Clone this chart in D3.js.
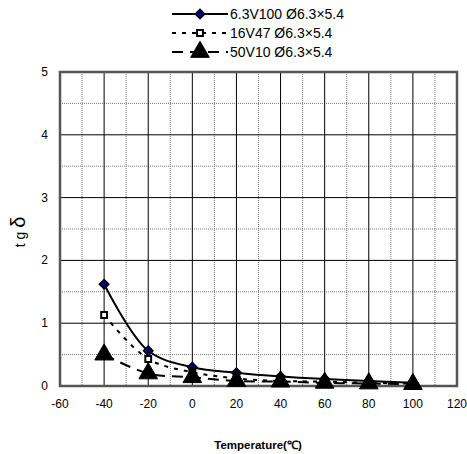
<!DOCTYPE html>
<html>
<head>
<meta charset="utf-8">
<script src="https://cdn.jsdelivr.net/npm/d3@7"></script>
<style>
  body { margin: 0; background: #fff; }
  text { font-family: Arial, "Liberation Sans", sans-serif; }
</style>
</head>
<body>
<div id="chart"></div>
<script>
// data
const temps = [-40, -20, 0, 20, 40, 60, 80, 100];
const s63v100 = [1.62, 0.56, 0.30, 0.21, 0.15, 0.11, 0.08, 0.05];
const s16v47 = [1.13, 0.43, 0.22, 0.12, 0.08, 0.07, 0.05, 0.04];
const s50v10 = [0.50, 0.20, 0.14, 0.08, 0.07, 0.05, 0.04, 0.03];
const seriesNames = ["6.3V100 Ø6.3×5.4", "16V47 Ø6.3×5.4", "50V10 Ø6.3×5.4"];
const xTicks = [-60, -40, -20, 0, 20, 40, 60, 80, 100, 120];
const yTicks = [0, 1, 2, 3, 4, 5];

const svg = d3.select("#chart")
    .append("svg")
    .attr("width", 467)
    .attr("height", 454);

const x = d3.scaleLinear().domain([-60, 120]).range([60, 457]);
const y = d3.scaleLinear().domain([0, 5]).range([386, 72]);

// minor grid (dotted)
const minorX = d3.range(-50, 120, 20);
const minorY = d3.range(0.5, 5, 1);
svg.append("g")
    .selectAll("line")
    .data(minorX)
    .join("line")
    .attr("x1", d => x(d)).attr("x2", d => x(d))
    .attr("y1", y(5)).attr("y2", y(0))
    .attr("stroke", "#777").attr("stroke-width", 1)
    .attr("stroke-dasharray", "1,1");
svg.append("g")
    .selectAll("line")
    .data(minorY)
    .join("line")
    .attr("x1", x(-60)).attr("x2", x(120))
    .attr("y1", d => y(d)).attr("y2", d => y(d))
    .attr("stroke", "#777").attr("stroke-width", 1)
    .attr("stroke-dasharray", "1,1");

// major grid
svg.append("g")
    .selectAll("line")
    .data(xTicks.slice(1, -1))
    .join("line")
    .attr("x1", d => x(d)).attr("x2", d => x(d))
    .attr("y1", y(5)).attr("y2", y(0))
    .attr("stroke", "#000").attr("stroke-width", 1);
svg.append("g")
    .selectAll("line")
    .data(yTicks.slice(1, -1))
    .join("line")
    .attr("x1", x(-60)).attr("x2", x(120))
    .attr("y1", d => y(d)).attr("y2", d => y(d))
    .attr("stroke", "#000").attr("stroke-width", 1);

// frame
svg.append("rect")
    .attr("x", x(-60)).attr("y", y(5))
    .attr("width", x(120) - x(-60)).attr("height", y(0) - y(5))
    .attr("fill", "none").attr("stroke", "#555").attr("stroke-width", 2.5);

// tick labels
svg.append("g")
    .selectAll("text")
    .data(xTicks)
    .join("text")
    .attr("x", d => x(d)).attr("y", 408)
    .attr("text-anchor", "middle")
    .attr("font-size", 12)
    .text(d => d);
svg.append("g")
    .selectAll("text")
    .data(yTicks)
    .join("text")
    .attr("x", 48).attr("y", d => y(d) + 4)
    .attr("text-anchor", "end")
    .attr("font-size", 12)
    .text(d => d);

// axis titles
svg.append("text")
    .attr("x", 258).attr("y", 449)
    .attr("text-anchor", "middle")
    .attr("font-size", 11.5).attr("font-weight", "bold")
    .text("Temperature(℃)");
const yTitle = svg.append("text")
    .attr("transform", "translate(25,232) rotate(-90)")
    .attr("text-anchor", "middle");
yTitle.append("tspan").attr("font-size", 14).text("t g ");
yTitle.append("tspan").attr("font-size", 20).text("δ");

// series
const curve = d3.curveCatmullRom.alpha(0.5);
const line = d3.line().x(d => x(d[0])).y(d => y(d[1])).curve(curve);
const series = [
    {vals: s63v100, dash: null, width: 2},
    {vals: s16v47, dash: "4,6", width: 2},
    {vals: s50v10, dash: "11,7", width: 2}
];

series.forEach((s) => {
    svg.append("path")
        .datum(temps.map((t, i) => [t, s.vals[i]]))
        .attr("d", line)
        .attr("fill", "none")
        .attr("stroke", "#000")
        .attr("stroke-width", s.width)
        .attr("stroke-dasharray", s.dash);
});

const diamond = d3.symbol().type(d3.symbolSquare).size(45);
const square = d3.symbol().type(d3.symbolSquare).size(34);
const triangle = d3.symbol().type(d3.symbolTriangle).size(150);

function drawMarkers(vals, sym, fill, stroke, sw, rot) {
    svg.append("g")
        .selectAll("path")
        .data(temps.map((t, i) => [t, vals[i]]))
        .join("path")
        .attr("transform", d => `translate(${x(d[0])},${y(d[1])}) rotate(${rot})`)
        .attr("d", sym)
        .attr("fill", fill)
        .attr("stroke", stroke)
        .attr("stroke-width", sw);
}
drawMarkers(s16v47, square, "#fff", "#000", 2, 0);
drawMarkers(s63v100, diamond, "#000080", "#000", 1.5, 45);
drawMarkers(s50v10, triangle, "#000", "#000", 1, 0);

// legend
const legendY = [14, 33, 52];
const legendSyms = [
    {sym: diamond, fill: "#000080", stroke: "#000", sw: 1.5, rot: 45},
    {sym: square, fill: "#fff", stroke: "#000", sw: 2, rot: 0},
    {sym: triangle, fill: "#000", stroke: "#000", sw: 1, rot: 0}
];
seriesNames.forEach((name, i) => {
    svg.append("line")
        .attr("x1", 172).attr("x2", 228)
        .attr("y1", legendY[i]).attr("y2", legendY[i])
        .attr("stroke", "#000").attr("stroke-width", 2)
        .attr("stroke-dasharray", series[i].dash);
    svg.append("path")
        .attr("transform", `translate(200,${legendY[i]}) rotate(${legendSyms[i].rot})`)
        .attr("d", legendSyms[i].sym)
        .attr("fill", legendSyms[i].fill)
        .attr("stroke", legendSyms[i].stroke)
        .attr("stroke-width", legendSyms[i].sw);
    svg.append("text")
        .attr("x", 230).attr("y", legendY[i] + 5)
        .attr("font-size", 14)
        .text(name);
});
</script>
</body>
</html>
